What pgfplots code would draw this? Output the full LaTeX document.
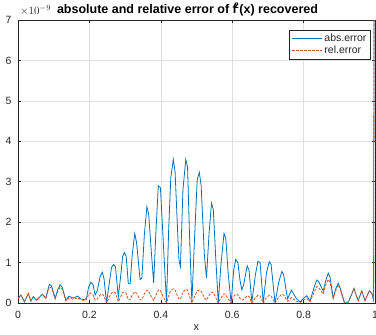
\documentclass[border=0pt]{standalone}
\usepackage{pgfplots}
\usepackage{pgfplotstable}
\pgfplotsset{compat=1.18}
\usepackage{fontspec}
\setmainfont{Liberation Sans}
\definecolor{mblue}{rgb}{0,0.447,0.741}
\definecolor{morange}{rgb}{0.85,0.325,0.098}
\definecolor{axgray}{rgb}{0.15,0.15,0.15}
\pgfplotstableread{
x y
0 0.10
0.008 0.20
0.018 0.03
0.029 0.24
0.036 0.05
0.043 0.16
0.052 0.07
0.060 0.14
0.068 0.22
0.078 0.12
0.083 0.30
0.088 0.46
0.094 0.42
0.104 0.12
0.111 0.32
0.118 0.45
0.124 0.39
0.134 0.07
0.143 0.17
0.150 0.14
0.155 0.12
0.162 0.15
0.167 0.17
0.176 0.10
0.186 0.08
0.192 0.12
0.198 0.40
0.204 0.51
0.210 0.46
0.216 0.20
0.222 0.30
0.230 0.65
0.236 0.76
0.241 0.60
0.248 0.00
0.255 0.45
0.262 0.88
0.268 0.95
0.273 0.90
0.281 0.15
0.288 0.70
0.293 1.15
0.298 1.25
0.303 1.15
0.309 0.48
0.314 0.47
0.320 1.20
0.327 1.72
0.332 1.50
0.342 0.58
0.347 0.62
0.354 1.70
0.361 2.38
0.366 2.20
0.374 1.20
0.380 0.50
0.386 1.70
0.393 2.90
0.399 2.85
0.407 1.50
0.416 0.00
0.422 1.80
0.428 3.10
0.435 3.55
0.440 3.25
0.447 1.80
0.451 1.05
0.455 0.90
0.462 2.80
0.470 3.55
0.475 3.35
0.480 1.80
0.487 0.02
0.495 1.70
0.502 3.05
0.508 3.23
0.513 2.90
0.522 1.20
0.528 0.62
0.535 1.70
0.542 2.47
0.547 2.32
0.554 1.10
0.561 0.00
0.568 0.90
0.577 1.72
0.582 1.60
0.589 0.70
0.597 0.00
0.604 0.80
0.610 1.08
0.616 1.00
0.622 0.55
0.627 0.33
0.632 0.45
0.642 0.92
0.647 0.82
0.655 0.02
0.665 0.70
0.672 1.03
0.678 1.00
0.687 0.00
0.696 0.75
0.704 1.02
0.709 0.95
0.720 0.00
0.730 0.50
0.739 0.78
0.744 0.70
0.755 0.10
0.766 0.32
0.779 0.12
0.790 0.02
0.800 0.12
0.809 0.18
0.818 0.05
0.830 0.40
0.837 0.57
0.842 0.53
0.855 0.30
0.862 0.55
0.869 0.74
0.874 0.64
0.883 0.12
0.890 0.35
0.897 0.49
0.902 0.38
0.914 0.02
0.925 0.02
0.934 0.20
0.941 0.36
0.947 0.20
0.953 0.06
0.963 0.30
0.972 0.06
0.984 0.30
0.991 0.24
0.996 0.08
1.000 20
}\abserr
\pgfplotstableread{
x y
0 0.10
0.008 0.19
0.018 0.03
0.029 0.23
0.036 0.05
0.043 0.15
0.052 0.07
0.060 0.13
0.068 0.21
0.078 0.11
0.083 0.26
0.088 0.40
0.094 0.37
0.104 0.10
0.111 0.28
0.118 0.39
0.124 0.34
0.134 0.05
0.143 0.13
0.150 0.11
0.155 0.09
0.162 0.11
0.167 0.13
0.176 0.08
0.186 0.06
0.192 0.08
0.198 0.22
0.204 0.25
0.210 0.20
0.216 0.07
0.222 0.10
0.230 0.20
0.236 0.22
0.241 0.17
0.248 0.00
0.255 0.13
0.262 0.25
0.268 0.27
0.273 0.25
0.281 0.03
0.288 0.16
0.293 0.26
0.298 0.27
0.303 0.24
0.309 0.08
0.314 0.08
0.320 0.20
0.327 0.28
0.332 0.24
0.342 0.08
0.347 0.08
0.354 0.23
0.361 0.32
0.366 0.29
0.374 0.15
0.380 0.06
0.386 0.19
0.393 0.32
0.399 0.31
0.407 0.15
0.416 0.00
0.422 0.18
0.428 0.31
0.435 0.35
0.440 0.32
0.447 0.17
0.451 0.10
0.455 0.09
0.462 0.27
0.470 0.34
0.475 0.32
0.480 0.17
0.487 0.00
0.495 0.17
0.502 0.30
0.508 0.32
0.513 0.29
0.522 0.13
0.528 0.07
0.535 0.19
0.542 0.27
0.547 0.26
0.554 0.13
0.561 0.00
0.568 0.12
0.577 0.23
0.582 0.21
0.589 0.10
0.597 0.00
0.604 0.16
0.610 0.22
0.616 0.20
0.622 0.11
0.627 0.07
0.632 0.09
0.642 0.18
0.647 0.16
0.655 0.00
0.665 0.13
0.672 0.19
0.678 0.18
0.687 0.00
0.696 0.14
0.704 0.19
0.709 0.17
0.720 0.00
0.730 0.14
0.739 0.22
0.744 0.20
0.755 0.04
0.766 0.13
0.779 0.05
0.790 0.01
0.800 0.08
0.809 0.11
0.818 0.03
0.830 0.28
0.837 0.41
0.842 0.38
0.855 0.22
0.862 0.44
0.869 0.59
0.874 0.51
0.883 0.10
0.890 0.31
0.897 0.45
0.902 0.35
0.914 0.02
0.925 0.02
0.934 0.20
0.941 0.36
0.947 0.20
0.953 0.06
0.963 0.30
0.972 0.06
0.984 0.30
0.991 0.24
0.996 0.08
1.000 20
}\relerr
\begin{document}
\begin{tikzpicture}
\begin{axis}[
  name=ax,
  anchor=south west, at={(0,0)},
  scale only axis, width=357pt, height=283pt,
  xmin=0, xmax=1, ymin=0, ymax=7,
  xtick={0,0.2,0.4,0.6,0.8,1},
  xticklabels={0,0.2,0.4,0.6,0.8,1},
  ytick={0,1,2,3,4,5,6,7},
  grid=major,
  major grid style={color=black!12, line width=0.5pt},
  tick align=inside,
  major tick length=3pt,
  tick style={color=axgray, line width=0.5pt},
  axis line style={color=axgray, line width=0.6pt},
  ticklabel style={font=\fontsize{10.5}{12}\selectfont, color=axgray},
  yticklabel style={xshift=-3pt},
  xticklabel style={yshift=-5pt},
  /pgf/number format/assume math mode=true,
  xlabel={x},
  xlabel style={font=\fontsize{11}{12}\selectfont, color=axgray, yshift=1pt},
  title={\textbf{absolute and relative error of f\kern-0.2em\raisebox{0.85ex}{\fontsize{8}{8}\selectfont 2}\kern0.05em(x) recovered}},
  title style={font=\fontsize{12.5}{14}\selectfont, yshift=-6pt, xshift=-9pt},
  legend style={at={(0.988,0.966)}, anchor=north east, font=\fontsize{10.5}{12}\selectfont,
    draw=axgray, line width=0.5pt, inner sep=2pt, row sep=-1pt, text=axgray},
  legend cell align=left,
  legend image code/.code={\draw[#1] (0pt,0pt) -- (30pt,0pt);},
]
\addplot[color=mblue, draw=mblue, line width=0.8pt] table[x=x,y=y]{\abserr};
\addlegendentry{abs.error}
\addplot[color=morange, draw=morange, line width=0.8pt, dash pattern=on 2.5pt off 1.5pt] table[x=x,y=y]{\relerr};
\addlegendentry{rel.error}
\end{axis}
\node[anchor=south west, font=\fontsize{11}{12}\selectfont, color=axgray, inner sep=0pt] at ([xshift=2pt,yshift=4pt]ax.north west) {$\times10^{-9}$};
\pgfresetboundingbox
\path (-18pt,-32pt) rectangle (358pt,303pt);
\end{tikzpicture}
\end{document}
